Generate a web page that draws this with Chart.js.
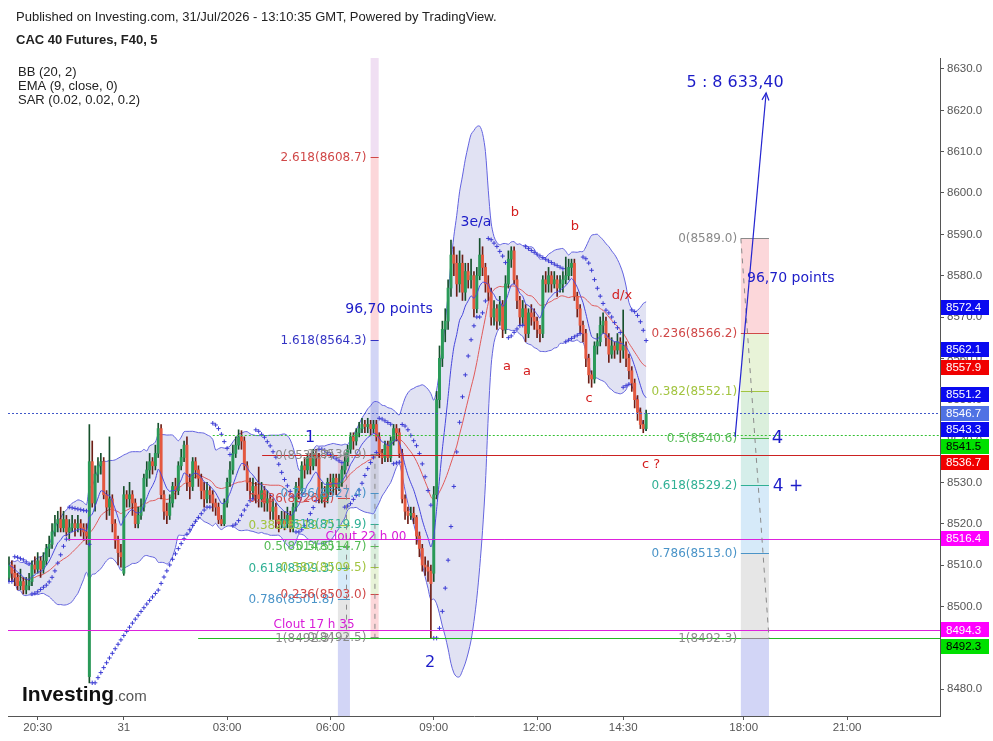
<!DOCTYPE html>
<html><head><meta charset="utf-8">
<script src="https://cdn.jsdelivr.net/npm/chart.js@4.4.1/dist/chart.umd.min.js"></script>
<style>html,body{margin:0;padding:0;background:#fff;}#wrap{width:993px;height:741px;position:relative;}</style>
</head><body><div id="wrap"><canvas id="c" width="993" height="741"></canvas></div>
<script>
// ---------- DATA ----------
const closes = [8510,8508,8507,8505,8506,8504,8505,8506,8510,8509,
8511,8509,8511,8514,8515,8518,8520,8521,8519,8521,
8518,8519,8520,8519,8520,8519,8518,8517,8535,8525,
8532,8534,8535,8527,8524,8526,8520,8516,8513,8512,
8527,8526,8527,8525,8520,8522,8524,8531,8533,8535,
8534,8537,8543,8527,8523,8522,8525,8529,8528,8534,
8536,8539,8530,8529,8535,8533,8531,8528,8526,8528,
8527,8525,8524,8521,8520,8525,8530,8533,8537,8539,
8541,8540,8534,8530,8528,8529,8527,8526,8528,8525,
8526,8523,8524,8521,8520,8521,8520,8522,8519,8524,
8529,8528,8534,8533,8536,8534,8537,8536,8526,8527,
8526,8530,8529,8531,8529,8530,8533,8535,8538,8541,
8540,8542,8543,8544,8543.5,8544,8543,8544,8541,8537,
8536,8539,8536,8540,8543,8542,8537,8526,8523,8522,
8522.5,8521.5,8517,8514,8510,8509.5,8508.5,8505.5,8527,8550,
8560,8567,8569,8577,8585,8583,8578,8583,8576,8581,
8579,8580,8572,8580,8585,8582,8578,8576,8570,8572,
8569,8573,8567,8578,8584,8586,8579,8574,8570,8572,
8566,8571,8570,8569,8567,8566,8579,8578,8580,8578,
8579,8577,8578,8579,8580,8582,8583,8575,8572,8568,
8566,8560,8556,8555,8563,8564,8568,8569,8565,8561,
8563,8562,8564,8562,8563,8560,8557,8554,8550,8547,
8544,8543,8546.7];
const highs = [8512,8511,8510,8508,8509,8507,8507,8508,8511,8512,
8513,8512,8513,8515,8517,8520,8522,8523,8524,8523,
8522,8521,8522,8521,8522,8521,8520,8520,8544,8540,
8534,8536,8537,8536,8528,8541,8527,8521,8517,8515,
8529,8528,8530,8528,8526,8524,8526,8532,8535,8537,
8536,8539,8544.3,8544,8528,8525,8527,8530,8531,8535,
8538,8540,8541,8532,8536,8536,8534,8532,8530,8530,
8529,8528,8526,8525,8522,8526,8531,8535,8539,8541,
8542.7,8542.5,8541,8535,8531,8531,8530,8533.7,8530,8529,
8528,8527,8526,8525,8522,8523,8523,8524,8523,8525,
8530,8531,8535,8536,8537,8537,8538,8538,8537,8530,
8529,8531,8532,8532,8532,8532,8534,8537,8539,8542,
8542,8543,8544.5,8545.5,8545,8545.5,8545,8545,8545,8542,
8538,8540,8540,8541,8544,8544,8543,8538,8527,8524,
8524,8524,8522,8518,8515,8512,8511,8510,8529,8552,
8563,8569,8572,8579,8588.6,8587,8585,8586,8585,8583,
8583,8584,8581,8582,8589,8587,8583,8580,8577,8574,
8573,8575,8574,8580,8586,8587,8587,8580,8575,8574,
8573,8572,8573,8572,8570,8568,8580,8581,8582,8581,
8581,8580,8580,8581,8584.5,8584,8584,8584,8576,8573,
8569,8567,8561,8557,8564,8566,8570,8571,8570,8566,
8565,8564,8566,8565,8571.7,8564,8561,8558,8555,8551,
8548,8545,8547.5];
const lows = [8506,8506,8505,8504,8504,8503,8503,8504,8505,8508,
8508,8507,8508,8510,8512,8514,8517,8518,8518,8518,
8517,8516,8518,8517,8518,8517,8516,8515,8481.5,8524,
8523,8530,8532,8526,8521,8522,8518,8514,8510,8509.5,
8507.5,8524,8524,8522,8519,8519,8521,8523,8529,8531,
8532,8533,8536,8526,8521,8520,8521,8524,8526,8527,
8533,8535,8528,8526,8528,8531,8529,8526,8524,8525,
8525,8523,8522,8520,8519.5,8519.5,8524,8529,8532,8536,
8538,8538,8533,8528,8526,8526,8525,8524,8524,8523,
8523,8521,8521,8519,8518,8519,8518.5,8519,8518,8518,
8523,8526,8527,8531,8532,8532,8533,8534,8525,8525,
8524,8525,8527,8527,8527,8528,8529,8532,8534,8537,
8538,8539,8541,8542,8542,8542,8541.5,8542,8540,8536,
8534.5,8535,8535,8535,8539,8540,8536,8525,8521,8520,
8521,8520,8515,8512,8508.5,8507.5,8506,8492.3,8506,8526,
8548,8558,8564,8567,8575,8580,8575,8576,8574,8574,
8577,8577,8570,8571,8579,8580,8576,8574,8568,8568,
8567,8568,8565,8566,8577,8582,8578,8572,8568,8568,
8564,8565,8568,8567,8565,8564,8565,8576,8576,8576,
8577,8575,8576,8576,8578,8579,8580,8574,8570,8566,
8564,8558,8554,8553,8554,8561,8563,8566,8563,8559,
8560,8560,8561,8559,8560,8558,8555,8552,8548,8545,
8543,8542,8542.5];
const firstOpen = 8507;
const gapOpens = [[28, 8483], [40, 8508], [148, 8508]];   // bars that open away from prior close

const xTickPos = [10, 40, 76, 112, 148, 184, 214, 256, 292];
const xTickLabels = ['20:30', '31', '03:00', '06:00', '09:00', '12:00', '14:30', '18:00', '21:00'];
const yTickValues = [8480, 8490, 8500, 8510, 8520, 8530, 8540, 8550, 8560, 8570, 8580, 8590, 8600, 8610, 8620, 8630];

const hLineValues = [8546.7, 8541.5, 8536.7, 8516.4, 8494.3, 8492.3];
const axisTagValues = [8572.4, 8562.1, 8557.9, 8551.2, 8546.7, 8543.3, 8541.5, 8536.7, 8516.4, 8494.3, 8492.3];

const retrRatios = [0, 0.236, 0.382, 0.5, 0.618, 0.786, 1];
const extRatios = [0, 0.236, 0.382, 0.5, 0.618, 0.786, 1, 1.618, 2.618];
const fibLeft = [8536.7, 8492.3];   // level 0, level 1
const fibRight = [8589.0, 8492.3];  // level 0, level 1
const fibExt = [8492.5, 44.4];      // base, range

const arrowStart = [253.0, 8541.0];
const arrowEnd = [263.8, 8624.2];

const noteTexts = ['1', '2', '3e/a', 'b', 'b', 'a', 'a', 'c', 'd/x', 'c ?', '4', '4 +', '96,70 points', '96,70 points', '5 : 8 633,40', 'Clout 22 h 00', 'Clout 17 h 35'];
const noteX = [104.9, 146.7, 162.7, 176.3, 197.2, 173.5, 180.5, 202.1, 213.6, 223.7, 267.8, 271.4, 272.4, 132.4, 253.0, 124.4, 106.3];
const noteY = [8540.7, 8486.3, 8593.0, 8595.2, 8591.8, 8558.1, 8556.9, 8550.2, 8575.1, 8534.2, 8540.7, 8528.9, 8579.4, 8571.9, 8626.6, 8516.8, 8495.5];

// ---------- derived series ----------
const opens = closes.map((c, i) => i === 0 ? firstOpen : closes[i - 1]);
gapOpens.forEach(([i, v]) => { opens[i] = v; });

function bollinger(src, len, mult) {
  const up = [], mid = [], lo = [];
  for (let i = 0; i < src.length; i++) {
    const w = src.slice(Math.max(0, i - len + 1), i + 1);
    const m = w.reduce((a, b) => a + b, 0) / w.length;
    const sd = Math.sqrt(w.reduce((a, b) => a + (b - m) * (b - m), 0) / w.length);
    mid.push(m); up.push(m + mult * sd); lo.push(m - mult * sd);
  }
  return { up, mid, lo };
}
function ema(src, len) {
  const k = 2 / (len + 1), out = [src[0]];
  for (let i = 1; i < src.length; i++) out.push(src[i] * k + out[i - 1] * (1 - k));
  return out;
}
function psar(h, l, start, inc, max) {
  const out = [];
  let up = true, af = start, ep = h[0], sar = l[0];
  out.push(sar);
  for (let i = 1; i < h.length; i++) {
    sar = sar + af * (ep - sar);
    if (up) {
      sar = Math.min(sar, l[i - 1], l[Math.max(0, i - 2)]);
      if (l[i] < sar) { up = false; sar = ep; ep = l[i]; af = start; }
      else if (h[i] > ep) { ep = h[i]; af = Math.min(af + inc, max); }
    } else {
      sar = Math.max(sar, h[i - 1], h[Math.max(0, i - 2)]);
      if (h[i] > sar) { up = true; sar = ep; ep = h[i]; af = start; }
      else if (l[i] < ep) { ep = l[i]; af = Math.min(af + inc, max); }
    }
    out.push(sar);
  }
  return out;
}
const bb = bollinger(closes, 20, 2);
const ema9 = ema(closes, 9);
const sar = psar(highs, lows, 0.02, 0.02, 0.2);
const pts = arr => arr.map((v, i) => ({ x: i, y: v }));

const bull = closes.map((c, i) => c >= opens[i]);
const bodyColors = bull.map(b => b ? '#2a9a58' : '#e4583f');
const wickColors = bull.map(b => b ? '#16502c' : '#6e1e16');

// ---------- styles ----------
const FONT = '"DejaVu Sans", Verdana, sans-serif';
const ZONE = {0.236: 'rgba(242,54,69,0.20)', 0.382: 'rgba(160,205,90,0.24)', 0.5: 'rgba(76,175,80,0.20)', 0.618: 'rgba(8,153,129,0.17)', 0.786: 'rgba(90,170,230,0.25)', 1: 'rgba(140,140,140,0.22)', 1.618: 'rgba(90,100,220,0.27)', 2.618: 'rgba(242,54,69,0.20)', 3.618: 'rgba(156,39,176,0.15)'};
const LVL = {0: '#8a8a8a', 0.236: '#d04848', 0.382: '#a2c440', 0.5: '#55bb55', 0.618: '#30b095', 0.786: '#4a94c8', 1: '#8a8a8a', 1.618: '#3434c4', 2.618: '#d04848'};
const toolA = {x0: 114.6, x1: 118.8, lab: 113.3, dash: 117.6};
const toolB = {x0: 126.0, x1: 128.8, lab: 124.5, dash: 127.5};
const toolC = {x0: 255.0, x1: 264.8, lab: 253.7};
const hLineStyle = [
  {from: -1, color: '#4058c8', dash: [2, 2]},
  {from: 71, color: '#33c033', dash: [2, 2]},
  {from: 88.2, color: '#cc2222', dash: []},
  {from: 20.6, color: '#dd22dd', dash: []},
  {from: -1, color: '#dd22dd', dash: []},
  {from: 65.9, color: '#22bb22', dash: []}
];
const tagStyle = [
  ['#0a0af0', '#fff'], ['#0a0af0', '#fff'], ['#f00000', '#fff'], ['#0a0af0', '#fff'], ['#4f72e4', '#fff'], ['#0a0af0', '#fff'],
  ['#00e000', '#000'], ['#f00000', '#fff'], ['#ff00ff', '#fff'], ['#ff00ff', '#fff'], ['#00e000', '#000']
];
const BLUE = '#1c1cc8', RED = '#d41e1e', MAG = '#d81bd8';
const noteStyle = [
  [BLUE, 16], [BLUE, 16], [BLUE, 14], [RED, 13], [RED, 13], [RED, 13], [RED, 13],
  [RED, 13], [RED, 13], [RED, 13], [BLUE, 18], [BLUE, 17], [BLUE, 14], [BLUE, 14],
  [BLUE, 16], [MAG, 12], [MAG, 12]
];

// ---------- overlay plugin ----------
function retrVal(tool, r) { return tool[0] - r * (tool[0] - tool[1]); }
function extVal(r) { return fibExt[0] + r * fibExt[1]; }

const overlay = {
  id: 'overlay',
  beforeDatasetsDraw(chart) {
    const { ctx, chartArea: a, scales: { x, y } } = chart;
    ctx.save();
    ctx.beginPath(); ctx.rect(a.left, a.top, a.right - a.left, a.bottom - a.top); ctx.clip();
    const zones = (geo, vals, ratios) => {
      for (let k = 0; k < ratios.length - 1; k++) {
        const y0 = y.getPixelForValue(vals[k]), y1 = y.getPixelForValue(vals[k + 1]);
        ctx.fillStyle = ZONE[ratios[k + 1]];
        const x0 = x.getPixelForValue(geo.x0), x1 = x.getPixelForValue(geo.x1);
        ctx.fillRect(x0, Math.min(y0, y1), x1 - x0, Math.abs(y1 - y0));
      }
    };
    const rA = retrRatios.concat([1.618]);
    zones(toolA, rA.map(r => retrVal(fibLeft, r)), rA);
    zones(toolC, rA.map(r => retrVal(fibRight, r)), rA);
    const rB = extRatios.concat([3.618]);
    zones(toolB, rB.map(extVal), rB);
    ctx.restore();
  },
  afterDatasetsDraw(chart) {
    const { ctx, chartArea: a, scales: { x, y } } = chart;
    const X = v => x.getPixelForValue(v), Y = v => y.getPixelForValue(v);
    ctx.save();
    ctx.beginPath(); ctx.rect(a.left, a.top, a.right - a.left, a.bottom - a.top); ctx.clip();
    hLineValues.forEach((v, i) => {
      const s = hLineStyle[i];
      ctx.strokeStyle = s.color; ctx.lineWidth = 1; ctx.setLineDash(s.dash);
      const yy = Math.round(Y(v)) + 0.5;
      ctx.beginPath(); ctx.moveTo(Math.max(a.left, X(s.from)), yy); ctx.lineTo(a.right, yy); ctx.stroke();
    });
    ctx.setLineDash([]);
    const levels = (geo, vals, ratios) => {
      ratios.forEach((r, k) => {
        const yy = Math.round(Y(vals[k])) + 0.5;
        ctx.strokeStyle = LVL[r]; ctx.lineWidth = 1;
        ctx.beginPath(); ctx.moveTo(X(geo.x0), yy); ctx.lineTo(X(geo.x1), yy); ctx.stroke();
        ctx.font = '12px ' + FONT; ctx.fillStyle = LVL[r]; ctx.textAlign = 'right'; ctx.textBaseline = 'middle';
        ctx.fillText(r + '(' + vals[k].toFixed(1) + ')', X(geo.lab), yy);
      });
    };
    levels(toolA, retrRatios.map(r => retrVal(fibLeft, r)), retrRatios);
    levels(toolB, extRatios.map(extVal), extRatios);
    levels(toolC, retrRatios.map(r => retrVal(fibRight, r)), retrRatios);
    ctx.strokeStyle = '#8a8a8a'; ctx.setLineDash([5, 5]); ctx.lineWidth = 1;
    ctx.beginPath(); ctx.moveTo(X(toolA.dash), Y(fibLeft[0])); ctx.lineTo(X(toolA.dash), Y(fibLeft[1])); ctx.stroke();
    ctx.beginPath(); ctx.moveTo(X(toolB.dash), Y(extVal(1))); ctx.lineTo(X(toolB.dash), Y(extVal(0))); ctx.stroke();
    ctx.beginPath(); ctx.moveTo(X(toolC.x0), Y(fibRight[0])); ctx.lineTo(X(toolC.x1), Y(fibRight[1])); ctx.stroke();
    ctx.setLineDash([]);
    const ax0 = X(arrowStart[0]), ay0 = Y(arrowStart[1]), ax1 = X(arrowEnd[0]), ay1 = Y(arrowEnd[1]);
    ctx.strokeStyle = '#2424d0'; ctx.lineWidth = 1.2;
    ctx.beginPath(); ctx.moveTo(ax0, ay0); ctx.lineTo(ax1, ay1); ctx.stroke();
    const ang = Math.atan2(ay1 - ay0, ax1 - ax0), hl = 8;
    ctx.beginPath();
    ctx.moveTo(ax1 - hl * Math.cos(ang - 0.45), ay1 - hl * Math.sin(ang - 0.45)); ctx.lineTo(ax1, ay1);
    ctx.lineTo(ax1 - hl * Math.cos(ang + 0.45), ay1 - hl * Math.sin(ang + 0.45)); ctx.stroke();
    ctx.restore();
    ctx.save();
    noteTexts.forEach((t, i) => {
      const [col, size] = noteStyle[i];
      ctx.font = size + 'px ' + FONT; ctx.fillStyle = col; ctx.textAlign = 'center'; ctx.textBaseline = 'middle';
      ctx.fillText(t, X(noteX[i]), Y(noteY[i]));
    });
    ctx.restore();
  },
  afterDraw(chart) {
    const { ctx, chartArea: a, scales: { y } } = chart;
    ctx.save();
    // axis value tags, pushed apart when they would overlap
    let prev = -1e9;
    axisTagValues.map((v, i) => ({ v, i, yy: y.getPixelForValue(v) }))
      .sort((p, q) => p.yy - q.yy)
      .forEach(t => {
        const yy = Math.max(t.yy, prev + 16.5); prev = yy;
        ctx.fillStyle = tagStyle[t.i][0];
        ctx.fillRect(a.right + 1, Math.round(yy - 7.5), 48, 15);
        ctx.fillStyle = tagStyle[t.i][1]; ctx.font = '11.5px "Liberation Sans", Arial, sans-serif';
        ctx.textAlign = 'left'; ctx.textBaseline = 'middle';
        ctx.fillText(t.v.toFixed(1), a.right + 6, yy + 0.5);
      });
    ctx.fillStyle = '#222'; ctx.textAlign = 'left'; ctx.textBaseline = 'middle';
    ctx.font = '13px "Liberation Sans", Arial, sans-serif';
    ctx.fillText('Published on Investing.com, 31/Jul/2026 - 13:10:35 GMT, Powered by TradingView.', 16, 17);
    ctx.font = 'bold 13px "Liberation Sans", Arial, sans-serif';
    ctx.fillText('CAC 40 Futures, F40, 5', 16, 40);
    ctx.font = '13px "Liberation Sans", Arial, sans-serif';
    ctx.fillText('BB (20, 2)', 18, 72);
    ctx.fillText('EMA (9, close, 0)', 18, 86);
    ctx.fillText('SAR (0.02, 0.02, 0.2)', 18, 100);
    ctx.textBaseline = 'alphabetic';
    ctx.font = 'bold 21px "Liberation Sans", Arial, sans-serif'; ctx.fillStyle = '#111';
    ctx.fillText('Investing', 22, 701);
    const w = ctx.measureText('Investing').width;
    ctx.font = '15px "Liberation Sans", Arial, sans-serif'; ctx.fillStyle = '#555';
    ctx.fillText('.com', 22 + w, 701);
    ctx.restore();
  }
};

new Chart(document.getElementById('c'), {
  type: 'bar',
  data: {
    datasets: [
      { type: 'line', data: pts(bb.up), borderColor: '#6262e0', borderWidth: 1, pointRadius: 0, fill: '+1', backgroundColor: 'rgba(120,125,200,0.22)', order: 10, tension: 0.3 },
      { type: 'line', data: pts(bb.lo), borderColor: '#6262e0', borderWidth: 1, pointRadius: 0, fill: false, order: 10, tension: 0.3 },
      { type: 'line', data: pts(bb.mid), borderColor: '#e05a5a', borderWidth: 1, pointRadius: 0, fill: false, order: 9, tension: 0.3 },
      { type: 'bar', data: closes.map((c, i) => ({ x: i, y: [lows[i], highs[i]] })), backgroundColor: wickColors, barThickness: 1, grouped: false, order: 6 },
      { type: 'bar', data: closes.map((c, i) => ({ x: i, y: [opens[i], c] })), backgroundColor: bodyColors, borderWidth: 0, barThickness: 2.3, minBarLength: 1, grouped: false, order: 5 },
      { type: 'line', data: pts(ema9), borderColor: '#4646dc', borderWidth: 1, pointRadius: 0, fill: false, order: 4, tension: 0.2 },
      { type: 'line', data: pts(sar), showLine: false, pointStyle: 'cross', pointRadius: 2.2, pointBorderColor: '#3c3cd4', pointBorderWidth: 1, order: 3 }
    ]
  },
  options: {
    responsive: false, animation: false,
    layout: { padding: { left: 8, top: 58, right: 0, bottom: 0 } },
    plugins: { legend: { display: false }, tooltip: { enabled: false } },
    scales: {
      x: {
        type: 'linear', min: -0.348, max: 324.39, offset: false,
        afterBuildTicks: s => { s.ticks = xTickPos.map(v => ({ value: v })); },
        afterFit: s => { s.height = 25; },
        ticks: { autoSkip: false, maxRotation: 0, padding: 1, color: '#555', font: { family: '"Liberation Sans", Arial, sans-serif', size: 11.5 },
          callback: v => { const k = xTickPos.indexOf(v); return k >= 0 ? xTickLabels[k] : ''; } },
        grid: { offset: false, drawOnChartArea: false, drawTicks: true, tickLength: 4, color: '#555' },
        border: { display: true, color: '#555' }
      },
      y: {
        type: 'linear', position: 'right', min: 8473.47, max: 8632.66,
        afterBuildTicks: s => { s.ticks = yTickValues.map(v => ({ value: v })); },
        afterFit: s => { s.width = 53; },
        ticks: { padding: 3, color: '#555', font: { family: '"Liberation Sans", Arial, sans-serif', size: 11.5 }, callback: v => Number(v).toFixed(1) },
        grid: { drawOnChartArea: false, drawTicks: true, tickLength: 4, color: '#555' },
        border: { display: true, color: '#555' }
      }
    }
  },
  plugins: [overlay]
});
</script>
</body></html>
